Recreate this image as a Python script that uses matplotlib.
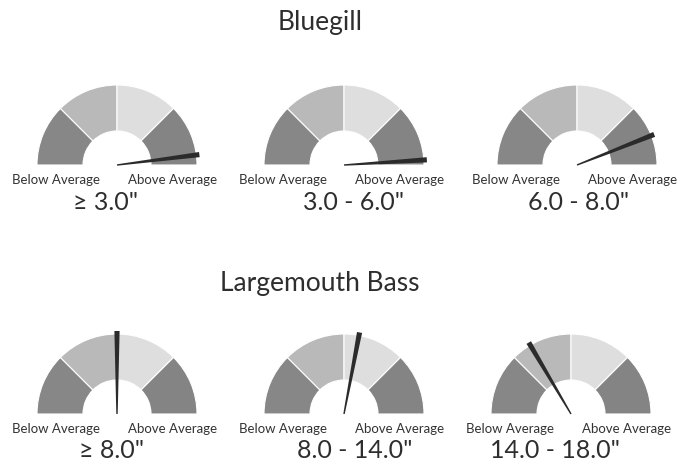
import matplotlib
matplotlib.use("Agg")
import matplotlib.pyplot as plt
from matplotlib.patches import Wedge, Polygon
import numpy as np

plt.rcParams['font.family'] = ['Lato', 'DejaVu Sans']

# data
groups = ["Bluegill", "Largemouth Bass"]
ranges = [["\u2265 3.0\"", "3.0 - 6.0\"", "6.0 - 8.0\""],
          ["\u2265 8.0\"", "8.0 - 14.0\"", "14.0 - 18.0\""]]
# needle position on a 0-100 scale (0 = far left, 100 = far right)
needle_values = [[96, 98, 88],
                 [50, 56, 33]]
low_label = "Below Average"
high_label = "Above Average"
band_colors = ["#878787", "#b9b9b9", "#dedede", "#848484"]

# layout (pixel coords)
W, H = 681, 474
centers_x = [[117, 344, 577], [117, 344, 571]]
base_y = [165, 414]
title_y = [22, 284]
sub_x = [[106, 354, 579], [112, 355, 555]]
r_out, r_in = 80, 34

fig = plt.figure(figsize=(W / 100, H / 100), dpi=100)
ax = fig.add_axes([0, 0, 1, 1])
ax.set_xlim(0, W)
ax.set_ylim(H, 0)
ax.set_aspect('equal')
ax.axis('off')

for row in range(2):
    ax.text(320, title_y[row], groups[row], ha='center', va='center',
            fontsize=19, color='#2e2e2e')
    for col in range(3):
        cx, cy = centers_x[row][col], base_y[row]
        # y axis is inverted, so angles go clockwise; draw bands left->right
        for k, c in enumerate(band_colors):
            a0 = 180 + 45 * k
            ax.add_patch(Wedge((cx, cy), r_out, a0, a0 + 45, width=r_out - r_in,
                               facecolor=c, edgecolor='white', linewidth=0.8))
        ang = np.deg2rad(180 - needle_values[row][col] / 100 * 180)
        dx, dy = np.cos(ang), -np.sin(ang)
        px, py = -dy, dx
        L = r_out + 3
        pts = [(cx + px * 0.7, cy + py * 0.7),
               (cx + dx * L + px * 2.6, cy + dy * L + py * 2.6),
               (cx + dx * L - px * 2.6, cy + dy * L - py * 2.6),
               (cx - px * 0.7, cy - py * 0.7)]
        ax.add_patch(Polygon(pts, closed=True, facecolor='#2b2b2b', edgecolor='none'))
        ax.text(cx - 61, cy + 15, low_label, ha='center', va='center',
                fontsize=9.5, color='#333333')
        ax.text(cx + 56, cy + 15, high_label, ha='center', va='center',
                fontsize=9.5, color='#333333')
        ax.text(sub_x[row][col], cy + 37, ranges[row][col], ha='center',
                va='center', fontsize=18, color='#2e2e2e')

fig.savefig("out.png", dpi=100)
